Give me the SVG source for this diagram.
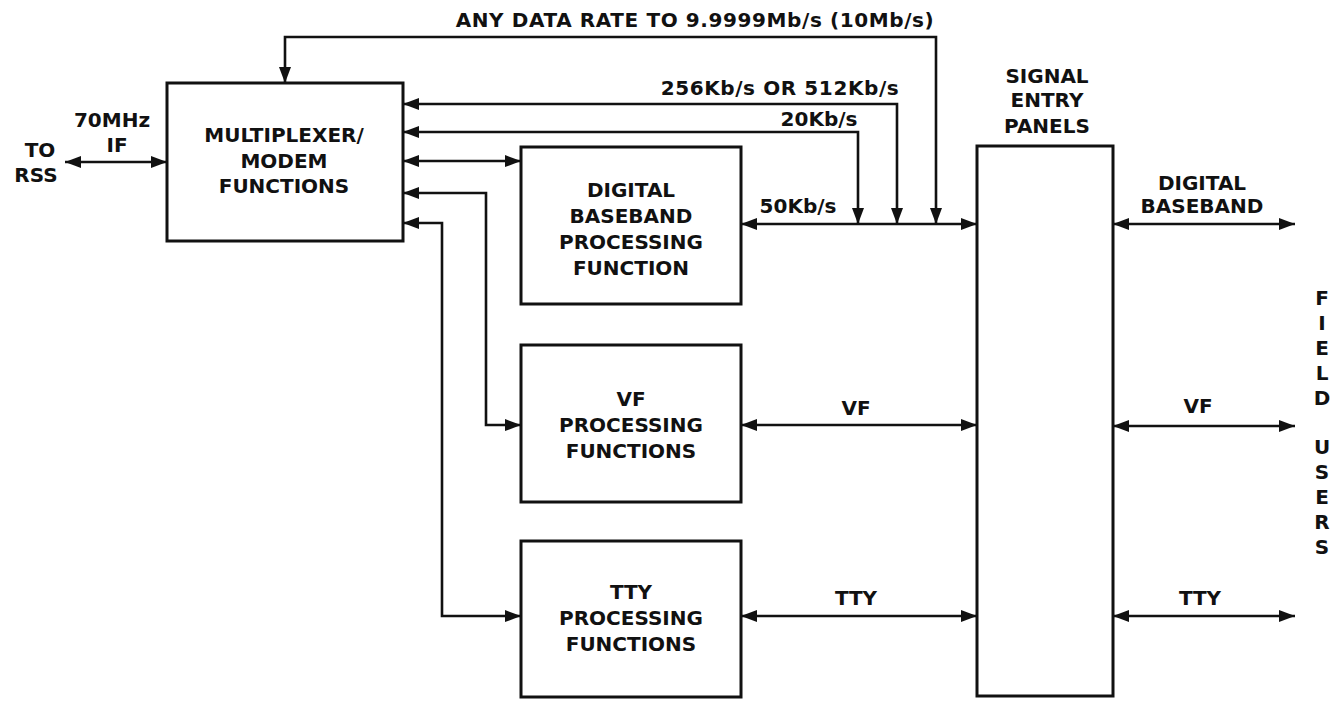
<svg xmlns="http://www.w3.org/2000/svg" width="1343" height="702" viewBox="0 0 1343 702">
<style>
.box{fill:#fff;stroke:#111;stroke-width:3}
.ln{fill:none;stroke:#111;stroke-width:2.6;marker-start:url(#ah);marker-end:url(#ah)}
.t{font-family:"DejaVu Sans","Liberation Sans",sans-serif;font-weight:bold;font-size:20px;fill:#111;text-anchor:middle}
.w{letter-spacing:0.6px}
</style>
<defs>
<marker id="ah" markerUnits="userSpaceOnUse" markerWidth="16" markerHeight="12" refX="16" refY="6" orient="auto-start-reverse">
<path d="M0,0 L16,6 L0,12 z" fill="#111"/>
</marker>
</defs>
<rect width="1343" height="702" fill="#fff"/>
<g id="connectors">
<path class="ln" d="M65,162 H167"/>
<path class="ln" d="M936,224 V37 H285 V83"/>
<path class="ln" d="M897,224 V104 H403"/>
<path class="ln" d="M858,224 V132 H403"/>
<path class="ln" d="M403,161 H521"/>
<path class="ln" d="M403,193 H486 V425 H521"/>
<path class="ln" d="M403,223 H442 V616 H521"/>
<path class="ln" d="M741,224 H977"/>
<path class="ln" d="M741,425 H977"/>
<path class="ln" d="M741,616 H977"/>
<path class="ln" d="M1113,224 H1295"/>
<path class="ln" d="M1113,426 H1295"/>
<path class="ln" d="M1113,616 H1295"/>
<text class="t w" x="695" y="27">ANY DATA RATE TO 9.9999Mb/s (10Mb/s)</text>
<text class="t w" x="780" y="95">256Kb/s OR 512Kb/s</text>
<text class="t" x="819" y="126">20Kb/s</text>
<text class="t" x="798" y="213">50Kb/s</text>
<text class="t" x="856" y="415">VF</text>
<text class="t" x="856" y="605">TTY</text>
<text class="t" x="112" y="127">70MHz</text>
<text class="t" x="117" y="152">IF</text>
<text class="t" x="1202" y="190">DIGITAL</text>
<text class="t" x="1202" y="213">BASEBAND</text>
<text class="t" x="1198" y="413">VF</text>
<text class="t" x="1200" y="605">TTY</text>
</g>
<g id="to-rss">
<text class="t" x="40" y="157">TO</text>
<text class="t" x="36" y="182">RSS</text>
</g>
<g id="mux">
<rect class="box" x="167" y="83" width="236" height="158"/>
<text class="t" x="284" y="142">MULTIPLEXER/</text>
<text class="t" x="284" y="168">MODEM</text>
<text class="t" x="284" y="193">FUNCTIONS</text>
</g>
<g id="digital">
<rect class="box" x="521" y="147" width="220" height="157"/>
<text class="t" x="631" y="197">DIGITAL</text>
<text class="t" x="631" y="223">BASEBAND</text>
<text class="t" x="631" y="249">PROCESSING</text>
<text class="t" x="631" y="275">FUNCTION</text>
</g>
<g id="vf">
<rect class="box" x="521" y="345" width="220" height="157"/>
<text class="t" x="631" y="406">VF</text>
<text class="t" x="631" y="432">PROCESSING</text>
<text class="t" x="631" y="458">FUNCTIONS</text>
</g>
<g id="tty">
<rect class="box" x="521" y="541" width="220" height="156"/>
<text class="t" x="631" y="599">TTY</text>
<text class="t" x="631" y="625">PROCESSING</text>
<text class="t" x="631" y="651">FUNCTIONS</text>
</g>
<g id="panels">
<rect class="box" x="977" y="146" width="136" height="550"/>
<text class="t" x="1047" y="83">SIGNAL</text>
<text class="t" x="1047" y="107">ENTRY</text>
<text class="t" x="1047" y="133">PANELS</text>
</g>
<g id="field-users">
<text class="t" x="1322" y="305">F</text>
<text class="t" x="1322" y="330">I</text>
<text class="t" x="1322" y="355">E</text>
<text class="t" x="1322" y="380">L</text>
<text class="t" x="1322" y="405">D</text>
<text class="t" x="1322" y="454">U</text>
<text class="t" x="1322" y="479">S</text>
<text class="t" x="1322" y="504">E</text>
<text class="t" x="1322" y="529">R</text>
<text class="t" x="1322" y="554">S</text>
</g>
</svg>
